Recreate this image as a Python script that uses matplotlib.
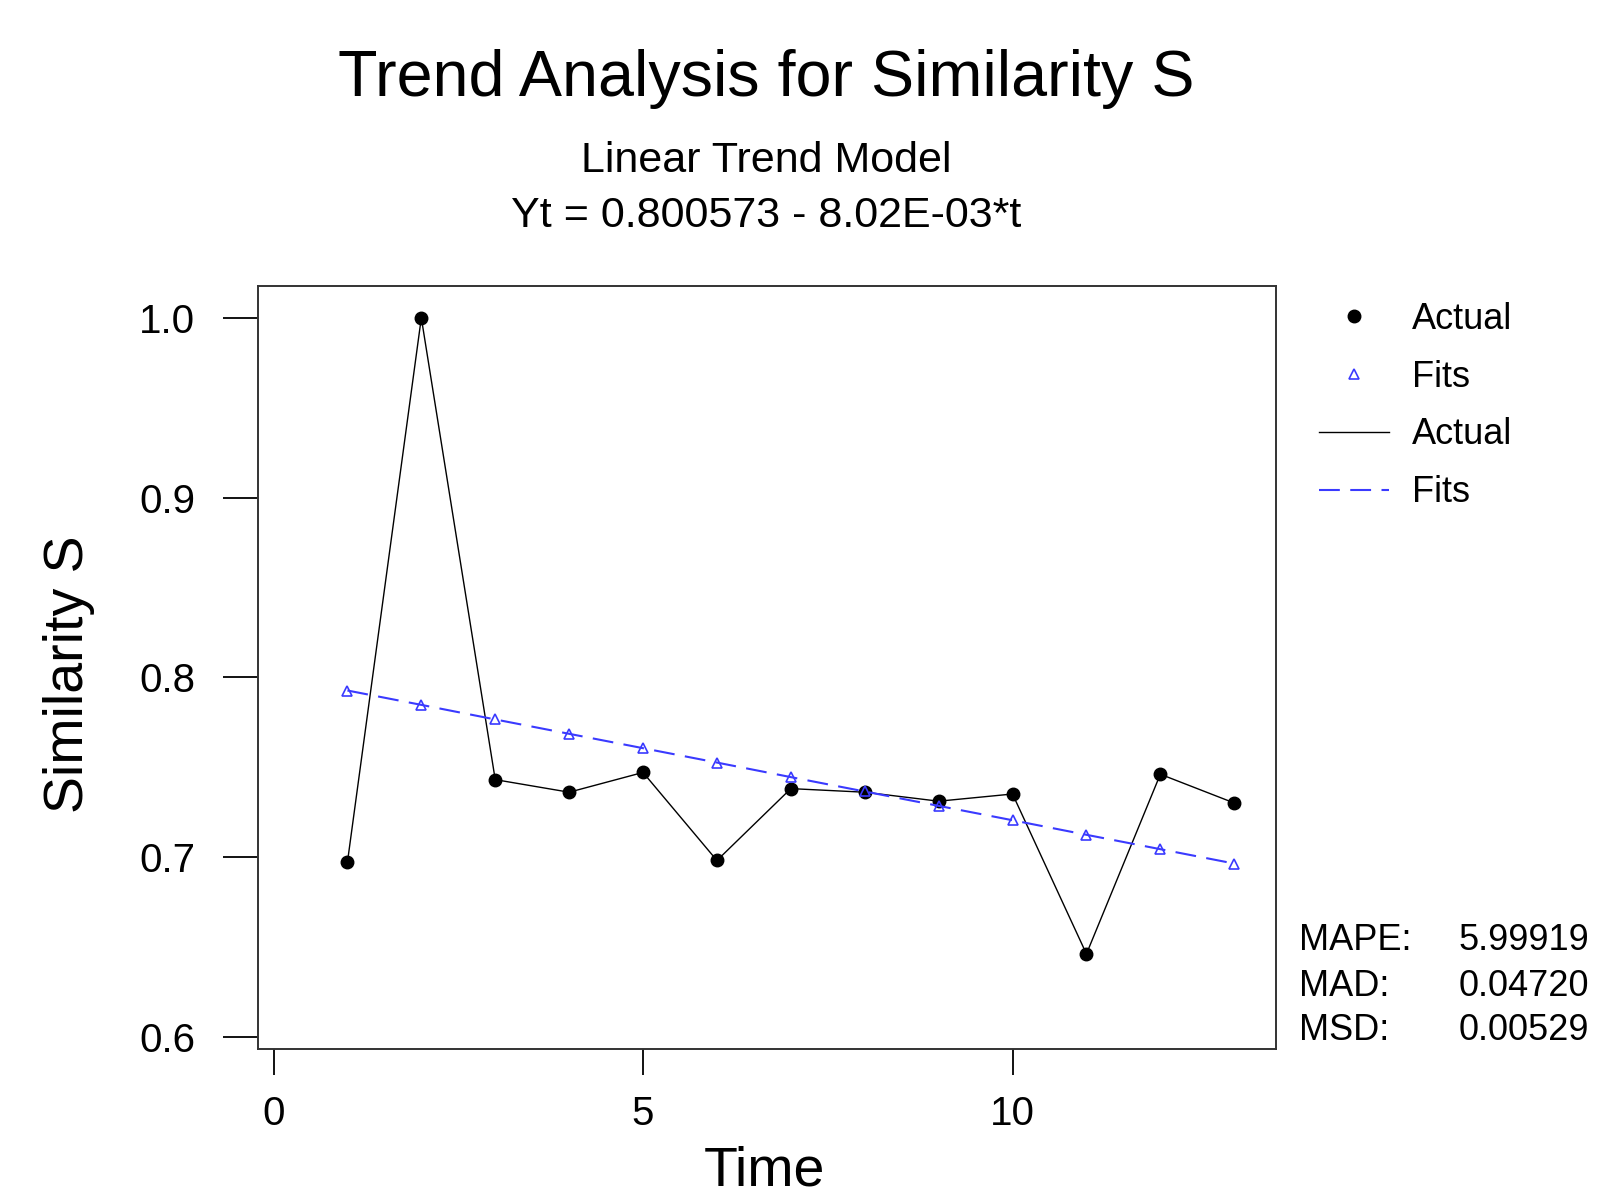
import matplotlib
matplotlib.use("Agg")
import matplotlib.pyplot as plt
from matplotlib.lines import Line2D
from matplotlib.ticker import FormatStrFormatter

plt.rcParams['font.family'] = ['Liberation Sans', 'DejaVu Sans']

# Data
t = [1, 2, 3, 4, 5, 6, 7, 8, 9, 10, 11, 12, 13]
actual = [0.697, 1.000, 0.743, 0.736, 0.747, 0.698, 0.738, 0.736, 0.731, 0.735, 0.646, 0.746, 0.730]
fits = [0.7926, 0.7846, 0.7765, 0.7685, 0.7605, 0.7525, 0.7444, 0.7364, 0.7284, 0.7204, 0.7123, 0.7043, 0.6963]
x_ticks = [0, 5, 10]
y_ticks = [0.6, 0.7, 0.8, 0.9, 1.0]
stats_names = ["MAPE:", "MAD:", "MSD:"]
stats_values = ["5.99919", "0.04720", "0.00529"]

W, H = 1613, 1202
fig = plt.figure(figsize=(W / 100, H / 100), dpi=100)
ax = fig.add_axes([258 / W, 1 - 1049 / H, (1276 - 258) / W, (1049 - 286) / H])

blue = '#3a3aff'
ax.plot(t, actual, color='black', lw=1.0, marker='o', ms=9, mfc='black', mec='black')
ax.plot(t, fits, color=blue, lw=1.5, dashes=(10, 5), marker='^', ms=7.5, mfc='none', mec=blue, mew=1.2)

ax.set_xlim(-0.21, 13.565)
ax.set_ylim(0.5931, 1.0177)
ax.set_xticks(x_ticks)
ax.set_yticks(y_ticks)
ax.yaxis.set_major_formatter(FormatStrFormatter('%.1f'))
ax.tick_params(axis='y', length=25, width=1.3, pad=20, labelsize=29)
ax.tick_params(axis='x', length=19, width=1.3, pad=14, labelsize=29)
for s in ax.spines.values():
    s.set_linewidth(1.4)
    s.set_color('#333333')

# Titles
fig.text(766 / W, 1 - 79 / H, "Trend Analysis for Similarity S", ha='center', va='center', fontsize=46.5)
fig.text(766 / W, 1 - 161 / H, "Linear Trend Model", ha='center', va='center', fontsize=31)
fig.text(766 / W, 1 - 216 / H, "Yt = 0.800573 - 8.02E-03*t", ha='center', va='center', fontsize=31)
fig.text(69 / W, 1 - 674 / H, "Similarity S", rotation=90, ha='center', va='center', fontsize=40)
fig.text(764 / W, 4 / H, "Time", ha='center', va='bottom', fontsize=40)

# Legend
handles = [
    Line2D([], [], ls='none', marker='o', ms=9, color='black'),
    Line2D([], [], ls='none', marker='^', ms=7.5, mfc='none', mec=blue, mew=1.2),
    Line2D([], [], color='black', lw=1.0),
    Line2D([], [], color=blue, lw=1.5, dashes=(10, 5)),
]
fig.legend(handles, ["Actual", "Fits", "Actual", "Fits"], loc='upper left',
           bbox_to_anchor=(1319 / W, 1 - 302 / H), frameon=False, fontsize=26,
           handlelength=1.94, handletextpad=0.64, labelspacing=0.63,
           borderpad=0, borderaxespad=0, numpoints=1)

# Accuracy measures
for i, (name, val) in enumerate(zip(stats_names, stats_values)):
    y = 1 - (941 + 45 * i) / H
    fig.text(1299 / W, y, name, ha='left', va='center', fontsize=26)
    fig.text(1589 / W, y, val, ha='right', va='center', fontsize=26)

fig.savefig("out.png", dpi=100)
